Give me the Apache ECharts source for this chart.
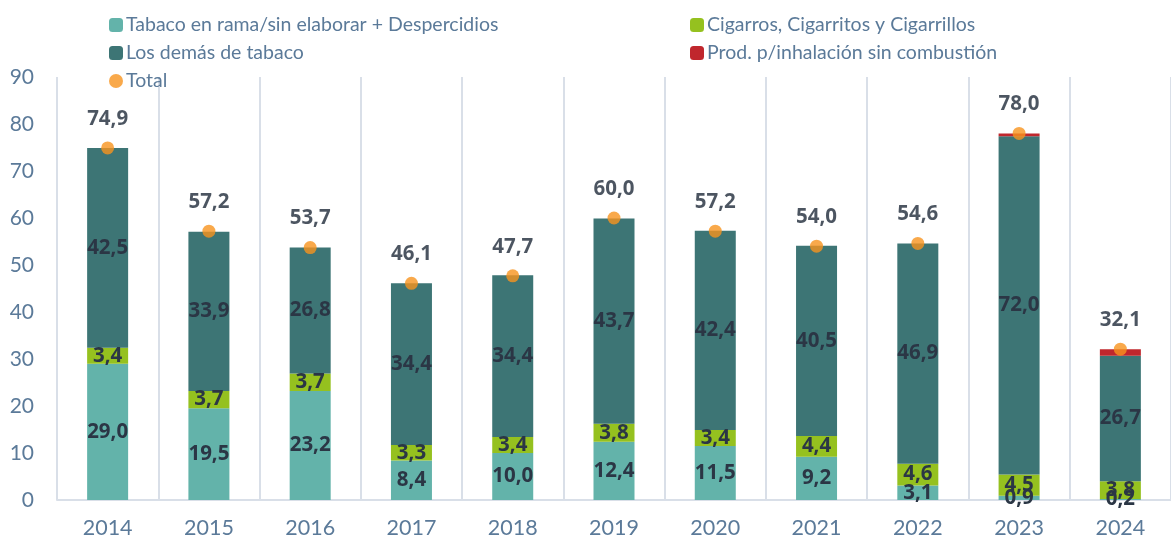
<!DOCTYPE html>
<html>
<head>
<meta charset="utf-8">
<script src="https://cdn.jsdelivr.net/npm/echarts@6/dist/echarts.min.js"></script>
<style>
  html, body { margin: 0; padding: 0; background: #fff; }
  #chart { width: 1171px; height: 540px; }
</style>
</head>
<body>
<div id="chart"></div>
<script>
const years = ['2014', '2015', '2016', '2017', '2018', '2019', '2020', '2021', '2022', '2023', '2024']
const tabacoRama = [29.0, 19.5, 23.2, 8.4, 10.0, 12.4, 11.5, 9.2, 3.1, 0.9, 0.2]
const cigarros = [3.4, 3.7, 3.7, 3.3, 3.4, 3.8, 3.4, 4.4, 4.6, 4.5, 3.8]
const losDemas = [42.5, 33.9, 26.8, 34.4, 34.4, 43.7, 42.4, 40.5, 46.9, 72.0, 26.7]
const inhalacion = [0, 0, 0, 0, 0, 0, 0, 0, 0, 0.6, 1.4]
const totals = [74.9, 57.2, 53.7, 46.1, 47.7, 60.0, 57.2, 54.0, 54.6, 78.0, 32.1]

const FONT = 'Lato'
const TXT = '#5b7a99'
const LBL = '#2b3645'

const fmt = p => (p.value ? p.value.toFixed(1).replace('.', ',') : '')

function barSeries(name, data, color, showLabel) {
  return {
    name: name,
    type: 'bar',
    stack: 'tot',
    barWidth: 41,
    data: data,
    itemStyle: { color: color },
    label: {
      show: showLabel,
      position: 'inside',
      formatter: fmt,
      color: LBL,
      fontFamily: 'Open Sans',
      fontWeight: 'bold',
      fontSize: 20.5
    }
  }
}

const legendText = { color: TXT, fontSize: 19.5, fontFamily: FONT, padding: [0, 0, 0, -2] }

const chart = echarts.init(document.getElementById('chart'))
chart.setOption({
  animation: false,
  textStyle: { fontFamily: FONT },
  grid: { left: 57, right: -11, top: 77, bottom: 40, containLabel: false },
  legend: [
    {
      data: ['Tabaco en rama/sin elaborar + Despercidios', 'Los demás de tabaco', 'Total'],
      orient: 'vertical',
      left: 104,
      top: 10,
      itemGap: 8,
      itemWidth: 14,
      itemHeight: 14,
      textStyle: legendText
    },
    {
      data: ['Cigarros, Cigarritos y Cigarrillos', 'Prod. p/inhalación sin combustión'],
      orient: 'vertical',
      left: 685,
      top: 10,
      itemGap: 8,
      itemWidth: 14,
      itemHeight: 14,
      textStyle: legendText
    }
  ],
  xAxis: {
    type: 'category',
    data: years,
    axisLine: { lineStyle: { color: '#d9dfe8', width: 2 } },
    axisTick: { show: false },
    axisLabel: { color: TXT, fontSize: 21.5, fontFamily: FONT, margin: 17 },
    splitLine: { show: true, lineStyle: { color: '#d9dfe8', width: 2 } }
  },
  yAxis: {
    type: 'value',
    min: 0,
    max: 90,
    interval: 10,
    axisLine: { show: false },
    axisTick: { show: false },
    splitLine: { show: false },
    axisLabel: { color: TXT, fontSize: 21, fontFamily: FONT, margin: 23 }
  },
  series: [
    barSeries('Tabaco en rama/sin elaborar + Despercidios', tabacoRama, '#63b3aa', true),
    barSeries('Cigarros, Cigarritos y Cigarrillos', cigarros, '#95c11f', true),
    barSeries('Los demás de tabaco', losDemas, '#3d7575', true),
    barSeries('Prod. p/inhalación sin combustión', inhalacion, '#c0272d', false),
    {
      name: 'Total',
      type: 'scatter',
      data: totals,
      symbol: 'circle',
      symbolSize: 13,
      z: 5,
      itemStyle: { color: '#f7931e' },
      label: {
        show: true,
        position: 'top',
        distance: 12,
        formatter: p => p.value.toFixed(1).replace('.', ','),
        color: '#1f2b3a',
        fontFamily: 'Open Sans',
        fontWeight: 'bold',
        fontSize: 20.5
      }
    }
  ]
})
</script>
</body>
</html>
